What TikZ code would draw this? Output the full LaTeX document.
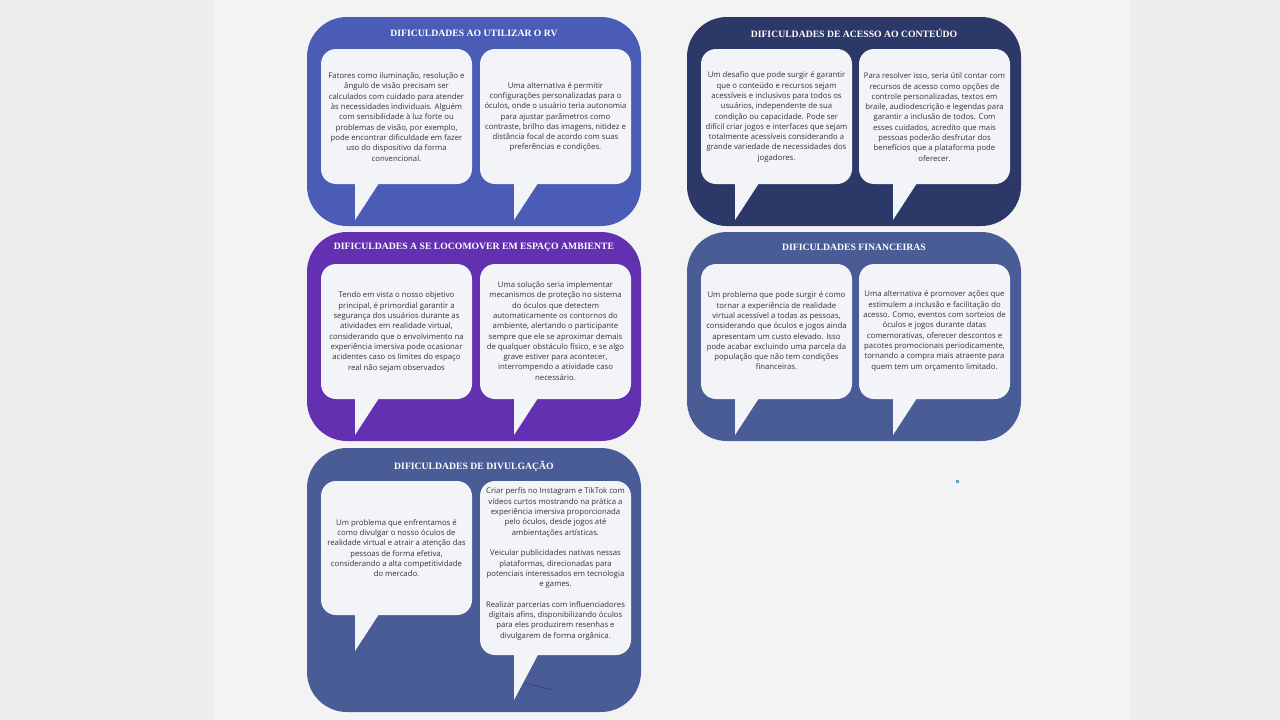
\documentclass[tikz,border=0pt]{standalone}
\usepackage{fontspec}
\setmainfont{Open Sans}
\newfontfamily\titlefont{Liberation Serif}
\definecolor{pageouter}{HTML}{EEEEEE}
\definecolor{pageinner}{HTML}{F3F3F3}
\definecolor{panelblue}{HTML}{4B5CB6}
\definecolor{panelnavy}{HTML}{2C3968}
\definecolor{panelpurple}{HTML}{6430B2}
\definecolor{panelslate}{HTML}{4A5C96}
\definecolor{bubblefill}{HTML}{F3F4F7}
\definecolor{bodygray}{HTML}{333333}
\definecolor{markblue}{HTML}{6A9CC0}
\tikzset{
  panelbox/.style={rounded corners=40pt},
  bodytext/.style={align=center, inner sep=0pt, text=bodygray,
    font=\fontsize{7.75}{10.3}\selectfont},
  titletext/.style={inner sep=0pt, text=white,
    font=\titlefont\bfseries\fontsize{9.7}{11}\selectfont},
}
% speech bubble: #1 left x, #2 top y, #3 bottom y, #4 tail tip y
\newcommand\speechbubble[4]{%
  \fill[bubblefill] (#1+34,#3-4) -- (#1+34,#4) -- (#1+60,#3-4) -- cycle;
  \fill[bubblefill, rounded corners=15pt] (#1,#2) rectangle (#1+151,#3);
}
\begin{document}
\begin{tikzpicture}[x=1pt,y=-1pt]
\useasboundingbox (0,0) rectangle (1280,720);
\fill[pageouter] (0,0) rectangle (1280,720);
\fill[pageinner] (215,0) rectangle (1130,720);

% panels
\fill[panelblue, panelbox] (307,17) rectangle (641,226);
\fill[panelnavy, panelbox] (687,17) rectangle (1021,226);
\fill[panelpurple, panelbox] (307,232) rectangle (641,441);
\fill[panelslate, panelbox] (687,232) rectangle (1021,441);
\fill[panelslate, panelbox] (307,448) rectangle (641,712);

% bubbles
\speechbubble{321}{49}{184}{220}
\speechbubble{480}{49}{184}{220}
\speechbubble{701}{49}{184}{220}
\speechbubble{859}{49}{184}{220}
\speechbubble{321}{264}{399}{435}
\speechbubble{480}{264}{399}{435}
\speechbubble{701}{264}{399}{435}
\speechbubble{859}{264}{399}{435}
\speechbubble{321}{481}{615}{651}
\speechbubble{480}{481}{655}{700}
\draw[panelslate!70!black, line width=0.6pt] (525,683) -- (553,690);

% titles
\node[titletext] (t1) at (474,33.5) {DIFICULDADES AO UTILIZAR O RV};
\node[titletext] (t2) at (854,33.5) {DIFICULDADES DE ACESSO AO CONTEÚDO};
\node[titletext] (t3) at (474,247.5) {DIFICULDADES A SE LOCOMOVER EM ESPAÇO AMBIENTE};
\node[titletext] (t4) at (854,247.5) {DIFICULDADES FINANCEIRAS};
\node[titletext] (t5) at (474,466.5) {DIFICULDADES DE DIVULGAÇÃO};

% texts
\node[bodytext] (p1a) at (396.5,117) {Fatores como iluminação, resolução e\\ângulo de visão precisam ser\\calculados com cuidado para atender\\às necessidades individuais. Alguém\\com sensibilidade à luz forte ou\\problemas de visão, por exemplo,\\pode encontrar dificuldade em fazer\\uso do dispositivo da forma\\convencional.};
\node[bodytext] (p1b) at (555.5,117) {Uma alternativa é permitir\\configurações personalizadas para o\\óculos, onde o usuário teria autonomia\\para ajustar parâmetros como\\contraste, brilho das imagens, nitidez e\\distância focal de acordo com suas\\preferências e condições.};
\node[bodytext] (p2a) at (776.5,117) {Um desafio que pode surgir é garantir\\que o conteúdo e recursos sejam\\acessíveis e inclusivos para todos os\\usuários, independente de sua\\condição ou capacidade. Pode ser\\difícil criar jogos e interfaces que sejam\\totalmente acessíveis considerando a\\grande variedade de necessidades dos\\jogadores.};
\node[bodytext] (p2b) at (934.5,117) {Para resolver isso, seria útil contar com\\recursos de acesso como opções de\\controle personalizadas, textos em\\braile, audiodescrição e legendas para\\garantir a inclusão de todos. Com\\esses cuidados, acredito que mais\\pessoas poderão desfrutar dos\\benefícios que a plataforma pode\\oferecer.};
\node[bodytext] (p3a) at (396.5,332) {Tendo em vista o nosso objetivo\\principal, é primordial garantir a\\segurança dos usuários durante as\\atividades em realidade virtual,\\considerando que o envolvimento na\\experiência imersiva pode ocasionar\\acidentes caso os limites do espaço\\real não sejam observados};
\node[bodytext] (p3b) at (555.5,331) {Uma solução seria implementar\\mecanismos de proteção no sistema\\do óculos que detectem\\automaticamente os contornos do\\ambiente, alertando o participante\\sempre que ele se aproximar demais\\de qualquer obstáculo físico, e se algo\\grave estiver para acontecer,\\interrompendo a atividade caso\\necessário.};
\node[bodytext] (p4a) at (776.5,331) {Um problema que pode surgir é como\\tornar a experiência de realidade\\virtual acessível a todas as pessoas,\\considerando que óculos e jogos ainda\\apresentam um custo elevado. Isso\\pode acabar excluindo uma parcela da\\população que não tem condições\\financeiras.};
\node[bodytext] (p4b) at (934.5,331) {Uma alternativa é promover ações que\\estimulem a inclusão e facilitação do\\acesso. Como, eventos com sorteios de\\óculos e jogos durante datas\\comemorativas, oferecer descontos e\\pacotes promocionais periodicamente,\\tornando a compra mais atraente para\\quem tem um orçamento limitado.};
\node[bodytext] (p5a) at (396.5,548) {Um problema que enfrentamos é\\como divulgar o nosso óculos de\\realidade virtual e atrair a atenção das\\pessoas de forma efetiva,\\considerando a alta competitividade\\do mercado.};
\node[bodytext] (p5b) at (555.5,564) {Criar perfis no Instagram e TikTok com\\vídeos curtos mostrando na prática a\\experiência imersiva proporcionada\\pelo óculos, desde jogos até\\ambientações artísticas.\\[10.3pt]Veicular publicidades nativas nessas\\plataformas, direcionadas para\\potenciais interessados em tecnologia\\e games.\\[10.3pt]Realizar parcerias com influenciadores\\digitais afins, disponibilizando óculos\\para eles produzirem resenhas e\\divulgarem de forma orgânica.};

% small mark
\fill[markblue] (956,480) rectangle (959,483);
\end{tikzpicture}
\end{document}
